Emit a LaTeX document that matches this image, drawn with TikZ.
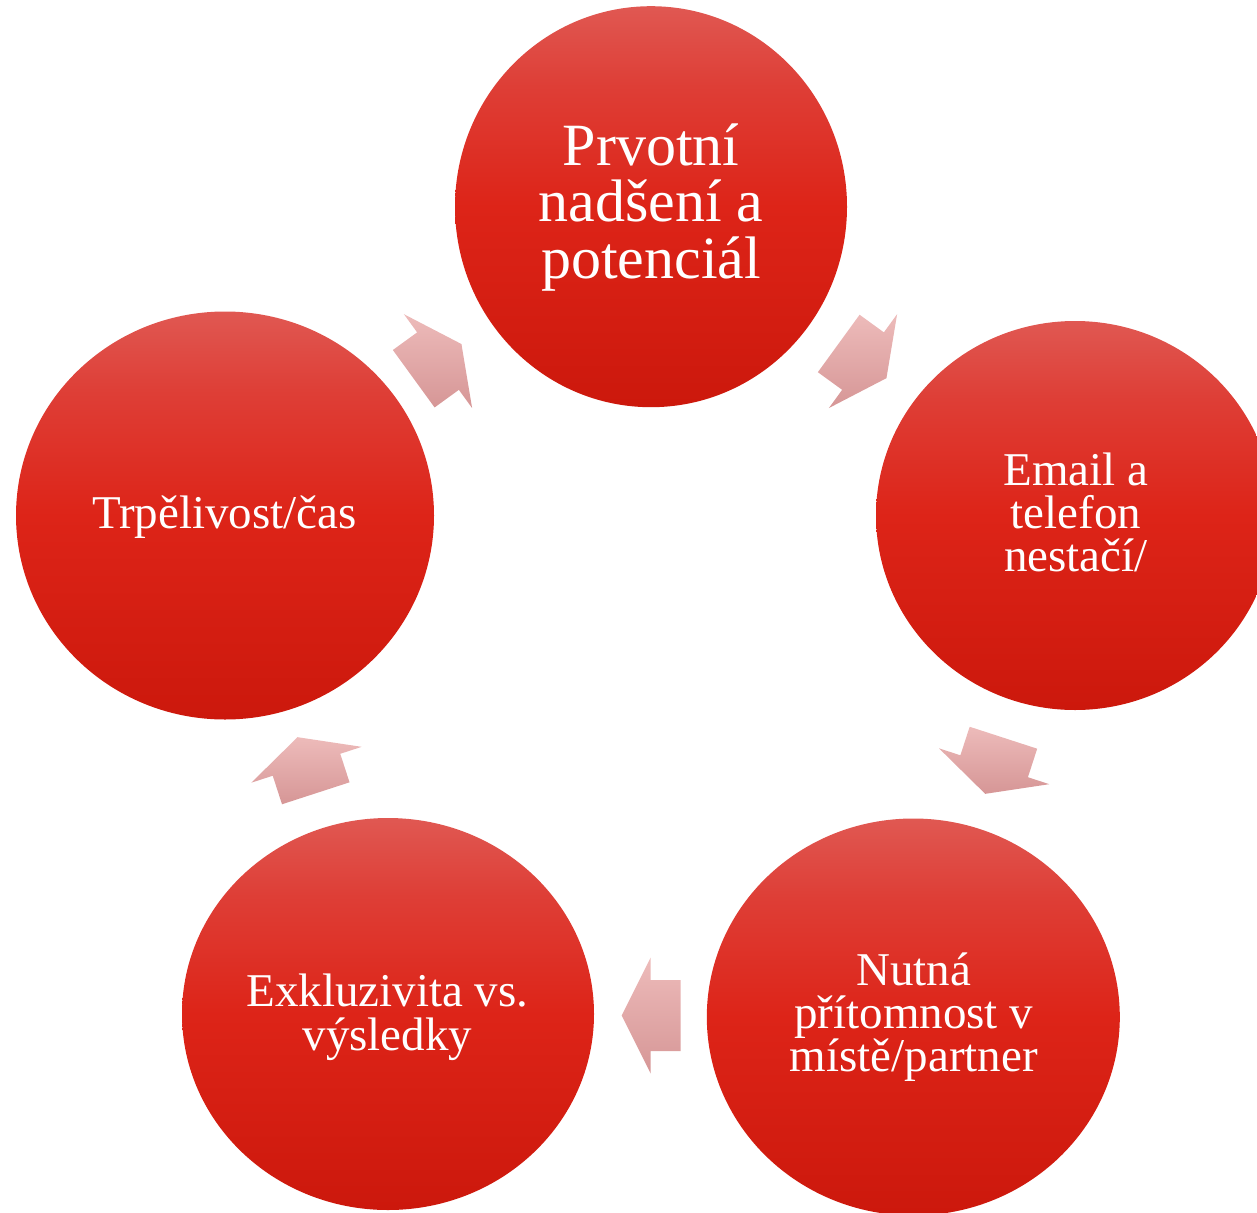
\documentclass[tikz,border=0pt]{standalone}
\usepackage{fontspec}
\setmainfont{Liberation Serif}
\usetikzlibrary{shapes.geometric,calc}
\definecolor{ctop}{RGB}{224,88,82}
\definecolor{cup}{RGB}{222,62,54}
\definecolor{cmid}{RGB}{221,36,24}
\definecolor{cbot}{RGB}{204,24,12}
\definecolor{atop}{RGB}{237,187,186}
\definecolor{abot}{RGB}{214,150,150}
\pgfdeclareverticalshading{redball}{100bp}{color(0bp)=(cbot); color(25bp)=(cbot); color(50bp)=(cmid); color(65bp)=(cup); color(75bp)=(ctop); color(100bp)=(ctop)}
\begin{document}
\begin{tikzpicture}[x=1pt,y=-1pt,
  ball/.style={ellipse, inner sep=0pt, shading=redball, draw=none},
  lbl/.style={anchor=base, text=white, inner sep=0pt, font=\fontsize{47}{47}\selectfont},
  biglbl/.style={lbl, font=\fontsize{60}{60}\selectfont},
  cyc/.pic={\path[top color=atop, bottom color=abot] (-30,-35.5) -- (0,-35.5) -- (0,-58) -- (29,0) -- (0,58) -- (0,35.5) -- (-30,35.5) -- cycle;}
]
\useasboundingbox (0,0) rectangle (1257,1212);
\clip (0,0) rectangle (1257,1212);

\node[ball, minimum width=392, minimum height=401] (c1) at (651,206.7) {};
\node[ball, minimum width=398, minimum height=389] (c2) at (1075,515.5) {};
\node[ball, minimum width=413, minimum height=397] (c3) at (913.3,1017) {};
\node[ball, minimum width=412, minimum height=392] (c4) at (388,1014) {};
\node[ball, minimum width=418, minimum height=408] (c5) at (225,515.5) {};

\node[biglbl] (t1a) at (651,165) {Prvotní};
\node[biglbl] (t1b) at (651,221.7) {nadšení a};
\node[biglbl] (t1c) at (651,278) {potenciál};

\node[lbl] (t2a) at (1076,485) {Email a};
\node[lbl] (t2b) at (1076,528) {telefon};
\node[lbl] (t2c) at (1076,571.7) {nestačí/};

\node[lbl] (t3a) at (913.7,985) {Nutná};
\node[lbl] (t3b) at (913.7,1028) {přítomnost v};
\node[lbl] (t3c) at (913.7,1071.7) {místě/partner};

\node[lbl] (t4a) at (387.5,1006.7) {Exkluzivita vs.};
\node[lbl] (t4b) at (387.5,1050) {výsledky};

\node[lbl] (t5a) at (224.5,528.3) {Trpělivost/čas};

\path ($(c1)!0.5!(c2)$) pic[rotate=-36] {cyc};
\path ($(c2)!0.5!(c3)$) pic[rotate=-108] {cyc};
\path ($(c3)!0.5!(c4)$) pic[rotate=180] {cyc};
\path ($(c4)!0.5!(c5)$) pic[rotate=108] {cyc};
\path ($(c5)!0.5!(c1)$) pic[rotate=36] {cyc};
\end{tikzpicture}
\end{document}
